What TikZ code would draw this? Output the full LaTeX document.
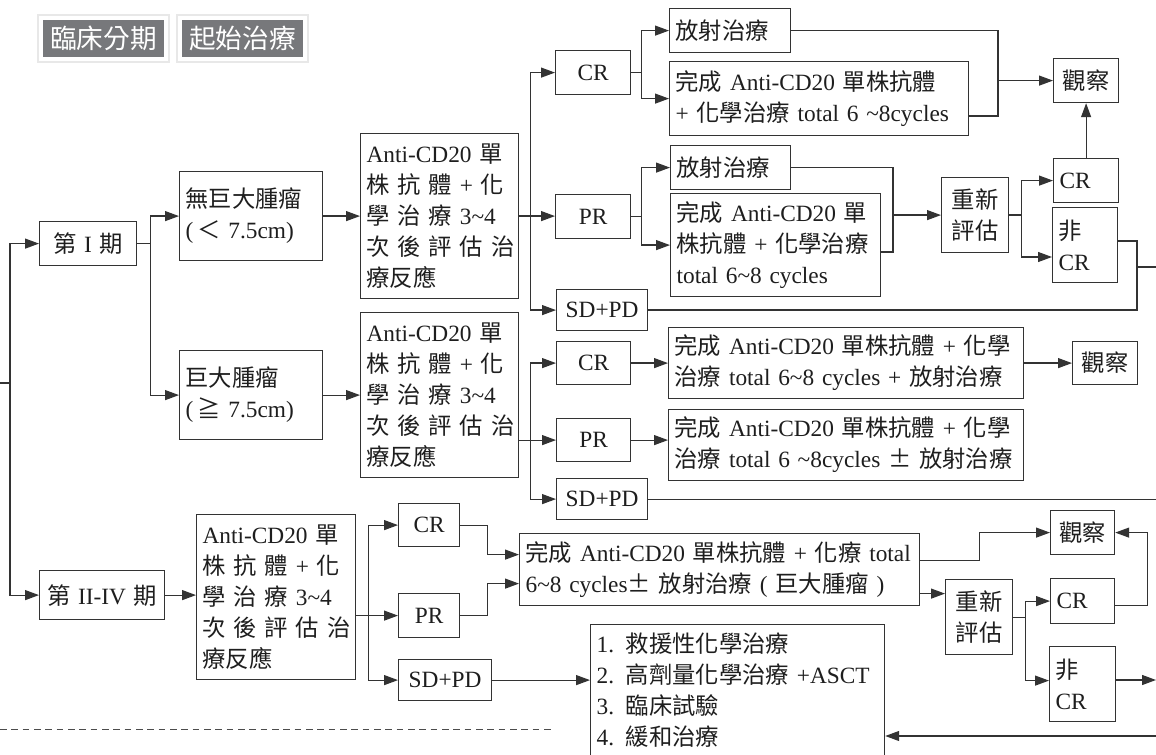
\documentclass[tikz,border=0pt]{standalone}
\usepackage{fontspec}
\setmainfont{Liberation Serif}
\newfontfamily\cjk{Noto Sans CJK TC}
\usetikzlibrary{arrows.meta,calc}
\newcommand\zh[1]{{\cjk #1}}
\newcommand\tld{\textasciitilde}
\newcommand\fs{\fontsize{17.5pt}{23.25pt}\selectfont}
\newcommand\jl[1]{\makebox[\linewidth][s]{#1}}
\newcommand\antitxt{\jl{Anti-CD20 \zh{單}}\\\jl{\zh{株} \zh{抗} \zh{體} + \zh{化}}\\\jl{\zh{學} \zh{治} \zh{療} 3\tld4}\\\jl{\zh{次} \zh{後} \zh{評} \zh{估} \zh{治}}\\\zh{療反應}}
\definecolor{lc}{HTML}{333333}
\definecolor{tc}{HTML}{1E1E1E}
\definecolor{tagc}{HTML}{77787B}
\begin{document}
\begin{tikzpicture}[x=0.75pt,y=-0.75pt,
  ln/.style={draw=lc,line width=0.9pt},
  arr/.style={-{Triangle[length=10.5pt,width=7.5pt]}},
  dashline/.style={draw=black!70,line width=0.6pt,dash pattern=on 5pt off 3.5pt},
  bx/.style 2 args={draw=lc,line width=0.9pt,fill=white,text=tc,anchor=north west,
     inner xsep=4.5pt,inner ysep=0pt,minimum width=#1*0.75pt,minimum height=#2*0.75pt,
     text width=#1*0.75pt-9pt,align=left,font=\fs},
  bxc/.style 2 args={bx={#1}{#2},align=center},
  tag/.style={fill=tagc,draw=white,line width=3pt,text=white,inner sep=0pt,
     minimum width=125*0.75pt,minimum height=41*0.75pt,
     font=\cjk\fontsize{20pt}{22pt}\selectfont,
     preaction={draw=black!9,line width=6pt}}
]
\useasboundingbox (0,0) rectangle (1156,755);
\clip (0,0) rectangle (1156,755);

% header tags
\node[tag] (t1) at (103.5,38.5) {臨床分期};
\node[tag] (t2) at (242.5,38.5) {起始治療};

% nodes
\node[bxc={97}{44}] (s1) at (39,221) {\zh{第} I \zh{期}};
\node[bxc={125}{49}] (s2) at (39,570) {\zh{第} II-IV \zh{期}};
\node[bx={143}{89}] (nb) at (179,171) {\zh{無巨大腫瘤}\\(\,\zh{＜} 7.5cm)};
\node[bx={143}{89}] (bg) at (179,350) {\zh{巨大腫瘤}\\(\,\zh{≧} 7.5cm)};
\node[bx={158}{165}] (a1) at (360,133) {\antitxt};
\node[bx={158}{165}] (a2) at (360,312) {\antitxt};
\node[bx={159}{165}] (a3) at (196,514) {\antitxt};

\node[bxc={75}{44}] (cr1) at (555,50) {CR};
\node[bxc={75}{44}] (pr1) at (555,194) {PR};
\node[bxc={91}{41}] (sd1) at (556,289) {SD+PD};
\node[bxc={74}{43}] (cr2) at (556,341) {CR};
\node[bxc={74}{43}] (pr2) at (556,418) {PR};
\node[bxc={91}{41}] (sd2) at (556,478) {SD+PD};
\node[bxc={61}{43}] (cr3) at (398,503) {CR};
\node[bxc={61}{44}] (pr3) at (398,593) {PR};
\node[bxc={93}{41}] (sd3) at (398,659) {SD+PD};

\node[bx={121}{44}] (rad1) at (669,8) {\zh{放射治療}};
\node[bx={299}{74}] (cmp1) at (669,61) {\zh{完成} Anti-CD20 \zh{單株抗體}\\+ \zh{化學治療} total 6 \tld8cycles};
\node[bx={120}{44}] (rad2) at (670,145) {\zh{放射治療}};
\node[bx={210}{103}] (cmp2) at (670,193) {\zh{完成} Anti-CD20 \zh{單}\\\zh{株抗體} + \zh{化學治療}\\total 6\tld8 cycles};
\node[bxc={67}{75}] (re1) at (941,177) {\zh{重新}\\\zh{評估}};
\node[bxc={65}{44}] (obs1) at (1053,58) {\zh{觀察}};
\node[bx={65}{44}] (cr5) at (1053,158) {CR};
\node[bx={65}{75}] (ncr1) at (1052,207) {\zh{非}\\CR};

\node[bx={355}{71}] (cmp3) at (668,327) {\zh{完成} Anti-CD20 \zh{單株抗體} + \zh{化學}\\\zh{治療} total 6\tld8 cycles + \zh{放射治療}};
\node[bx={355}{71}] (cmp4) at (668,409) {\zh{完成} Anti-CD20 \zh{單株抗體} + \zh{化學}\\\zh{治療} total 6 \tld8cycles \zh{±} \zh{放射治療}};
\node[bxc={65}{43}] (obs2) at (1072,341) {\zh{觀察}};

\node[bx={400}{72}] (cmp5) at (519,533) {\zh{完成} Anti-CD20 \zh{單株抗體} + \zh{化療} total\\6\tld8 cycles\zh{±} \zh{放射治療} ( \zh{巨大腫瘤} )};
\node[bxc={64}{44}] (obs3) at (1050,510) {\zh{觀察}};
\node[bxc={67}{75}] (re2) at (945,579) {\zh{重新}\\\zh{評估}};
\node[bx={64}{45}] (cr4) at (1050,578) {CR};
\node[bx={66}{75}] (ncr2) at (1049,646) {\zh{非}\\CR};
\node[bx={294}{132}] (lst) at (590,624) {1. \zh{救援性化學治療}\\2. \zh{高劑量化學治療} +ASCT\\3. \zh{臨床試驗}\\4. \zh{緩和治療}};

% trunk
\coordinate (tin) at (0,383);
\coordinate (tr) at (10,383);
\draw[ln] (tin) -- (tr);
\draw[ln,arr] (tr) |- (s1.west);
\draw[ln,arr] (tr) |- (s2.west);
% stage I
\draw[ln,arr] (s1.east) -- ++(13,0) |- (nb.west);
\draw[ln,arr] (s1.east) -- ++(13,0) |- (bg.west);
\draw[ln,arr] (nb.east) -- (a1.west |- nb.east);
\draw[ln,arr] (bg.east) -- (a2.west |- bg.east);
% a1
\draw[ln,arr] (a1.east) -- (pr1.west |- a1.east);
\draw[ln,arr] (a1.east) -- ++(11,0) |- (cr1.west);
\draw[ln,arr] (a1.east) -- ++(11,0) |- (sd1.west);
% a2
\coordinate (a2o) at (a2.east |- pr2.west);
\draw[ln,arr] (a2o) -- (pr2.west);
\draw[ln,arr] (a2o) -- ++(11,0) |- (cr2.west);
\draw[ln,arr] (a2o) -- ++(11,0) |- (sd2.west);
% stage II-IV
\draw[ln,arr] (s2.east) -- (a3.west |- s2.east);
\coordinate (a3o) at (a3.east |- pr3.west);
\draw[ln,arr] (a3o) -- (pr3.west);
\draw[ln,arr] (a3o) -- ++(12,0) |- (cr3.west);
\draw[ln,arr] (a3o) -- ++(12,0) |- (sd3.west);
% CR1 / PR1 branches
\draw[ln,arr] (cr1.east) -- ++(10,0) |- (rad1.west);
\draw[ln,arr] (cr1.east) -- ++(10,0) |- (cmp1.west);
\draw[ln,arr] (pr1.east) -- ++(10,0) |- (rad2.west);
\draw[ln,arr] (pr1.east) -- ++(10,0) |- (cmp2.west);
% to obs1
\coordinate (c1o) at (cmp1.east |- 0,116);
\coordinate (j1) at (998,0);
\draw[ln] (rad1.east) -| (j1 |- c1o) -- (c1o);
\draw[ln,arr] (j1 |- obs1.west) -- (obs1.west);
\draw[ln,arr] (cr5.north) -- (obs1.south);
% to re1
\coordinate (c2o) at (cmp2.east |- 0,252);
\coordinate (j2) at (893,0);
\draw[ln] (rad2.east) -| (j2 |- c2o) -- (c2o);
\draw[ln,arr] (j2 |- re1.west) -- (re1.west);
\draw[ln,arr] (re1.east) -- ++(12,0) |- (cr5.west);
\coordinate (n1i) at (ncr1.west |- 0,257);
\draw[ln,arr] (re1.east) -- ++(12,0) |- (n1i);
% ncr1 and sd1 to right edge
\coordinate (j3) at (1137,0);
\coordinate (n1o) at (ncr1.east |- 0,241);
\coordinate (e1) at (1156,267);
\draw[ln] (n1o) -| (j3 |- sd1.east) -- (sd1.east);
\draw[ln] (j3 |- e1) -- (e1);
% CR2 / PR2 / SD2
\draw[ln,arr] (cr2.east) -- (cmp3.west |- cr2.east);
\draw[ln,arr] (cmp3.east) -- (obs2.west |- cmp3.east);
\draw[ln,arr] (pr2.east) -- (cmp4.west |- pr2.east);
\coordinate (e2) at (1156,0);
\draw[ln] (sd2.east) -- (sd2.east -| e2);
% CR3 / PR3 -> cmp5
\draw[ln,arr] (cr3.east) -- ++(27,0) |- ($(cmp5.west)+(0,-15)$);
\draw[ln,arr] (pr3.east) -- ++(27,0) |- ($(cmp5.west)+(0,14)$);
\coordinate (c5a) at ($(cmp5.east)+(0,-9)$);
\draw[ln,arr] (c5a) -- ++(59,0) |- (obs3.west);
\coordinate (c5b) at ($(cmp5.east)+(0,24)$);
\draw[ln,arr] (c5b) -- (c5b -| re2.west);
\draw[ln,arr] (re2.east) -- ++(12,0) |- (cr4.west);
\draw[ln,arr] (re2.east) -- ++(12,0) |- ($(ncr2.west)+(0,-3.5)$);
\draw[ln,arr] ($(cr4.east)+(0,4.5)$) -- ++(32,0) |- (obs3.east);
\coordinate (e3) at (1156,680);
\draw[ln,arr] (ncr2.east |- e3) -- (e3);
% SD3 -> list, return
\draw[ln,arr] (sd3.east) -- (sd3.east -| lst.west);
\coordinate (e4) at (1156,736);
\draw[ln,arr] (e4) -- (e4 -| lst.east);
% dashed rule
\coordinate (d0) at (0,729);
\coordinate (d1) at (551,729);
\draw[dashline] (d0) -- (d1);
\end{tikzpicture}
\end{document}
